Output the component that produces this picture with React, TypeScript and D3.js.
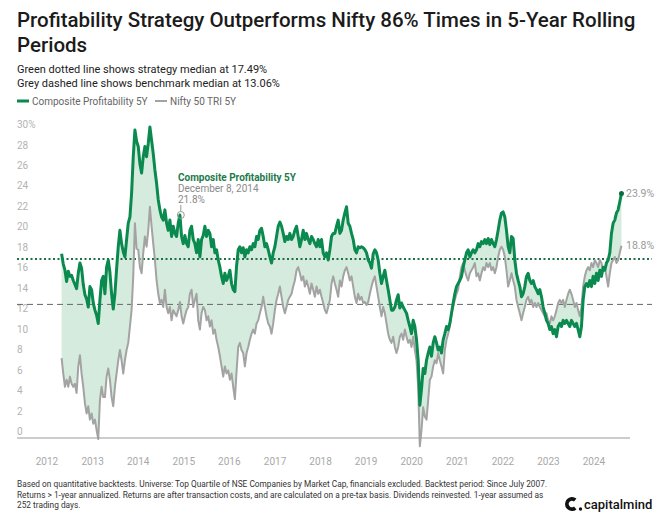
import React from "react";
import * as d3 from "d3";

const W = 660;
const H = 514;

// Rolling 5Y returns (%) at regular intervals
const startDate = new Date(2012, 3, 27);
const endDate = new Date(2024, 7, 8);

const strategyValues = [
  18.0, 17.0, 16.4, 15.3, 16.3, 15.8, 15.9, 15.4, 15.0, 14.6,
  16.1, 17.1, 16.6, 15.0, 14.0, 13.6, 12.8, 14.8, 14.5, 13.2,
  12.5, 12.0, 11.2, 13.5, 15.4, 15.8, 14.1, 16.7, 17.4, 16.2,
  14.1, 12.6, 14.1, 16.5, 18.7, 20.3, 19.0, 18.2, 17.7, 19.4,
  21.0, 21.6, 23.9, 27.5, 30.1, 29.0, 28.5, 26.8, 25.9, 27.5,
  28.5, 27.5, 28.8, 30.4, 29.1, 27.8, 26.2, 24.9, 23.3, 22.3,
  21.6, 21.3, 22.3, 21.0, 20.3, 21.3, 19.7, 20.7, 20.0, 19.7,
  21.0, 21.8, 19.7, 19.0, 19.8, 19.0, 18.7, 20.3, 20.7, 19.4,
  19.0, 18.1, 19.4, 17.7, 19.4, 19.8, 20.7, 19.7, 20.3, 20.0,
  18.7, 19.4, 18.1, 18.4, 17.4, 16.7, 15.8, 15.1, 16.1, 15.4,
  15.8, 16.4, 15.1, 14.5, 14.3, 16.8, 18.4, 18.7, 18.1, 18.6,
  17.7, 18.4, 18.1, 18.7, 18.4, 19.0, 18.7, 19.7, 19.4, 20.3,
  20.5, 19.7, 18.7, 19.0, 18.4, 17.7, 17.1, 18.1, 18.7, 19.7,
  20.7, 21.1, 20.7, 20.0, 19.2, 19.7, 19.4, 20.0, 19.4, 19.7,
  20.3, 20.7, 19.7, 18.7, 19.4, 20.3, 19.4, 20.0, 19.4, 19.0,
  19.7, 19.4, 19.0, 18.7, 19.4, 18.7, 19.4, 18.1, 17.7, 18.1,
  17.4, 18.4, 19.7, 20.0,
  20.0, 20.7, 21.3, 20.0, 20.3, 21.3, 22.0, 22.6, 21.0, 20.7,
  20.0, 19.4, 18.4, 18.1, 18.7, 18.6, 18.7, 18.6, 18.4, 18.1,
  17.4, 17.1, 16.6, 18.0, 18.4, 18.1, 17.4, 16.1, 15.1, 15.8,
  16.4, 15.4, 14.5, 13.5, 12.5, 12.5, 12.8, 13.5, 14.0, 12.7,
  13.2, 12.8, 12.5, 12.2, 11.5, 10.9, 10.2, 11.5, 10.9, 9.6,
  7.6, 3.2, 4.8, 6.8, 6.3, 7.6, 8.3, 8.9, 8.0, 9.3,
  9.9, 9.3, 8.6, 8.9, 8.3, 9.6, 10.2, 10.9, 10.6, 11.2,
  12.2, 13.2, 14.1, 14.8, 15.1, 15.4, 15.8, 16.7, 17.4, 18.1,
  18.4, 17.7, 18.1, 18.4,
  18.1, 18.4, 19.0, 18.7, 19.2, 19.0, 19.4, 19.0, 19.5, 18.9,
  19.4, 19.0, 18.7, 19.4, 20.3, 21.3, 22.0, 22.1, 21.6, 20.3,
  18.7, 18.1, 19.7, 19.5, 17.4, 16.1, 15.4, 14.8, 13.8, 14.1,
  14.8, 15.8, 16.1, 15.4, 15.1, 15.4, 14.8, 14.5, 14.1, 14.5,
  13.8, 12.8, 12.2, 11.5, 11.2, 10.6, 10.9, 10.2, 10.6, 9.9,
  10.9, 11.2, 10.9, 11.5, 11.2, 11.5, 11.2, 10.9, 11.5, 11.2,
  10.9, 11.2, 10.6, 9.9, 10.9, 13.5, 14.8, 15.1, 14.8, 15.4,
  14.8, 15.8, 15.1, 16.1, 15.4, 16.4, 15.8, 16.7, 16.4, 17.1,
  17.4, 18.1, 20.0, 21.0, 21.3, 22.0, 22.3, 23.1, 23.9,
];

const benchmarkValues = [
  7.8, 6.3, 5.0, 5.7, 5.0, 6.0, 5.3, 5.0, 5.3, 4.4,
  7.0, 8.1, 6.3, 5.0, 3.4, 2.4, 3.1, 1.8, 2.4, 1.4,
  1.8, 0.8, -0.1, 3.7, 5.0, 4.0, 4.0, 6.0, 6.8, 5.7,
  4.0, 3.1, 5.0, 6.3, 7.6, 8.6, 7.6, 6.3, 7.6, 8.6,
  9.3, 10.9, 12.5, 15.8, 21.0, 18.5, 18.4, 16.7, 16.1, 18.1,
  19.7, 18.7, 20.3, 22.6, 20.7, 19.0, 17.4, 15.4, 14.1, 13.2,
  13.5, 12.8, 14.5, 12.8, 12.2, 12.8, 11.5, 12.5, 12.2, 11.9,
  12.5, 13.3, 11.9, 11.2, 11.9, 12.5, 12.8, 14.1, 14.5, 12.8,
  13.5, 14.1, 11.5, 10.6, 12.2, 12.8, 12.5, 11.5, 11.9, 10.9,
  11.5, 10.2, 10.6, 9.6, 8.9, 8.0, 7.0, 6.0, 7.0, 6.3,
  6.6, 5.7, 6.3, 5.0, 3.8, 6.5, 8.9, 9.3, 8.6, 8.3,
  7.0, 8.3, 8.9, 9.6, 10.2, 10.6, 10.2, 11.2, 11.5, 12.2,
  12.8, 13.8, 12.8, 11.9, 11.2, 10.9, 10.2, 11.2, 12.5, 13.5,
  14.1, 14.8, 13.8, 12.8, 12.2, 12.8, 13.5, 13.8, 14.1, 14.8,
  15.4, 16.4, 16.7, 16.1, 15.4, 15.8, 14.8, 15.4, 14.8, 14.1,
  15.1, 14.5, 13.8, 14.8, 14.1, 14.5, 13.8, 13.2, 12.5, 12.2,
  12.8, 13.5, 15.1, 15.8,
  15.1, 14.5, 13.8, 15.4, 14.8, 15.8, 16.4, 16.7, 16.1, 15.4,
  15.8, 14.8, 13.8, 13.2, 14.1, 13.5, 13.8, 13.2, 13.3, 13.0,
  13.3, 14.1, 14.8, 15.4, 15.8, 14.8, 13.8, 12.8, 11.9, 12.8,
  12.2, 11.2, 10.2, 9.6, 9.3, 9.9, 8.9, 8.3, 8.9, 9.9,
  10.2, 9.6, 10.6, 9.9, 9.3, 9.6, 8.9, 9.9, 8.6, 7.6,
  5.0, -0.8, 0.8, 3.0, 2.1, 1.8, 3.7, 5.7, 6.0, 7.0,
  7.6, 7.3, 8.3, 7.6, 7.0, 6.3, 8.6, 9.6, 10.2, 10.9,
  12.2, 12.8, 13.5, 14.1, 14.5, 15.8, 16.7, 17.1, 16.4, 15.8,
  15.4, 16.1, 16.4, 16.7,
  17.1, 15.8, 16.1, 15.4, 16.1, 16.7, 16.4, 17.1, 16.7, 17.1,
  16.4, 16.7, 16.1, 16.7, 17.7, 18.4, 18.7, 18.4, 17.7, 16.4,
  14.8, 15.4, 16.1, 15.4, 14.8, 13.5, 12.8, 12.2, 11.5, 12.2,
  12.8, 13.5, 13.8, 13.2, 13.5, 12.8, 13.2, 12.8, 13.2, 12.8,
  12.5, 12.2, 11.9, 12.2, 11.5, 11.2, 11.9, 11.5, 11.9, 12.5,
  13.2, 13.5, 13.2, 13.5, 12.8, 13.5, 14.1, 14.5, 14.1, 13.5,
  12.8, 13.2, 12.5, 11.9, 12.8, 14.8, 15.8, 16.4, 16.7, 16.4,
  17.1, 16.7, 17.4, 17.1, 16.7, 17.4, 17.1, 16.4, 16.7, 15.8,
  14.8, 16.1, 17.1, 17.4, 17.7, 17.1, 17.4, 18.1, 18.8,
];

const yTicks = [0, 2, 4, 6, 8, 10, 12, 14, 16, 18, 20, 22, 24, 26, 28, 30];
const xYears = [2012, 2013, 2014, 2015, 2016, 2017, 2018, 2019, 2020, 2021, 2022, 2023, 2024];

const strategyMedian = 17.49;
const benchmarkMedian = 13.06;

const seriesNames = ["Composite Profitability 5Y", "Nifty 50 TRI 5Y"];

const annotationDate = new Date(2014, 11, 8);
const annotationValue = 21.8;
const annotationDateLabel = "December 8, 2014";

const titleLines = [
  "Profitability Strategy Outperforms Nifty 86% Times in 5-Year Rolling",
  "Periods",
];
const subtitleLines = [
  "Green dotted line shows strategy median at 17.49%",
  "Grey dashed line shows benchmark median at 13.06%",
];
const footerLines = [
  "Based on quantitative backtests. Universe: Top Quartile of NSE Companies by Market Cap, financials excluded. Backtest period: Since July 2007.",
  "Returns > 1-year annualized. Returns are after transaction costs, and are calculated on a pre-tax basis. Dividends reinvested. 1-year assumed as",
  "252 trading days.",
];

const GREEN = "#0a8a4f";
const GREY = "#a3a3a3";
const FONT = "Roboto, 'Noto Sans', sans-serif";

export default function App() {
  const x = d3
    .scaleTime()
    .domain([new Date(2012, 0, 1), new Date(2024, 0, 1)])
    .range([47, 594]);
  const y = d3.scaleLinear().domain([0, 30]).range([438, 131.1]);

  const n = strategyValues.length;
  const timeAt = d3
    .scaleLinear()
    .domain([0, n - 1])
    .range([startDate.getTime(), endDate.getTime()]);

  const data = strategyValues.map((s, i) => ({
    date: new Date(timeAt(i)),
    s,
    b: benchmarkValues[i],
  }));

  const area = d3
    .area<any>()
    .x((d) => x(d.date))
    .y0((d) => y(d.b))
    .y1((d) => y(d.s));
  const lineS = d3
    .line<any>()
    .x((d) => x(d.date))
    .y((d) => y(d.s));
  const lineB = d3
    .line<any>()
    .x((d) => x(d.date))
    .y((d) => y(d.b));

  const last = data[data.length - 1];
  const ax = x(annotationDate);
  const ay = y(annotationValue);

  const logoArc = d3
    .arc<any>()
    .innerRadius(3.2)
    .outerRadius(7)
    .startAngle(0.78 * Math.PI)
    .endAngle(2.22 * Math.PI);

  return (
    <svg
      width={W}
      height={H}
      style={{ position: "absolute", left: 0, top: 0, background: "#fff" }}
      fontFamily={FONT}
    >
      <rect width={W} height={H} fill="#ffffff" />
      {/* Title */}
      {titleLines.map((t, i) => (
        <text key={t} x={17} y={27 + i * 25} fontSize={20.5} fontWeight={500} fill="#1b1b1b">
          {t}
        </text>
      ))}
      {subtitleLines.map((t, i) => (
        <text key={t} x={17} y={73 + i * 13.5} fontSize={11} fill="#222">
          {t}
        </text>
      ))}
      {/* Legend */}
      <line x1={17} x2={29} y1={101} y2={101} stroke={GREEN} strokeWidth={3} />
      <text x={32} y={104.5} fontSize={10} fill="#666">
        {seriesNames[0]}
      </text>
      <line x1={155} x2={167} y1={101} y2={101} stroke={GREY} strokeWidth={2} />
      <text x={170} y={104.5} fontSize={10} fill="#666">
        {seriesNames[1]}
      </text>

      {/* Y axis labels */}
      {yTicks.map((v) => (
        <text key={v} x={17} y={y(v) - 3} fontSize={10} fill="#b3b3b3">
          {v === 30 ? "30%" : v}
        </text>
      ))}

      {/* Fill between */}
      <path d={area(data) || ""} fill="#d3eadb" opacity={0.95} />

      {/* Median lines */}
      <line
        x1={17}
        x2={652}
        y1={y(benchmarkMedian)}
        y2={y(benchmarkMedian)}
        stroke="#666"
        strokeWidth={1}
        strokeDasharray="6,4"
      />
      <line
        x1={17}
        x2={652}
        y1={y(strategyMedian)}
        y2={y(strategyMedian)}
        stroke="#1b6e45"
        strokeWidth={2}
        strokeDasharray="2,2.5"
      />

      {/* Lines */}
      <path d={lineB(data) || ""} fill="none" stroke={GREY} strokeWidth={2} strokeLinejoin="round" />
      <path d={lineS(data) || ""} fill="none" stroke={GREEN} strokeWidth={3} strokeLinejoin="round" />

      {/* Baseline */}
      <line x1={17} x2={630} y1={y(0)} y2={y(0)} stroke="#9a9a9a" strokeWidth={1} />

      {/* X labels */}
      {xYears.map((yr) => (
        <text
          key={yr}
          x={x(new Date(yr, 0, 1))}
          y={465}
          fontSize={10}
          fill="#a8a8a8"
          textAnchor="middle"
        >
          {yr}
        </text>
      ))}

      {/* End labels */}
      <circle cx={x(last.date)} cy={y(last.s)} r={2.5} fill="#0d6b40" />
      <text x={626} y={y(last.s) + 3.5} fontSize={10.5} fill="#999">
        {last.s.toFixed(1)}%
      </text>
      <text x={626} y={y(last.b) + 3.5} fontSize={10.5} fill="#999">
        {last.b.toFixed(1)}%
      </text>

      {/* Annotation */}
      <circle cx={ax} cy={ay} r={3.5} fill="none" stroke="#999" strokeWidth={1} />
      <line x1={ax} x2={ax} y1={ay - 3.5} y2={ay - 10} stroke="#999" strokeWidth={1} />
      <text x={178} y={181} fontSize={10} fontWeight={700} fill="#1d7a4c">
        {seriesNames[0]}
      </text>
      <text x={178} y={192} fontSize={10} fill="#8a8a8a">
        {annotationDateLabel}
      </text>
      <text x={178} y={203} fontSize={10} fill="#8a8a8a">
        {annotationValue.toFixed(1)}%
      </text>

      {/* Footer */}
      {footerLines.map((t, i) => (
        <text key={i} x={17} y={487 + i * 10.5} fontSize={8.3} fill="#333">
          {t}
        </text>
      ))}

      {/* Logo */}
      <path d={logoArc({}) || ""} transform="translate(572,504)" fill="#111" />
      <circle cx={580.5} cy={509} r={1.7} fill="#111" />
      <text x={584} y={509} fontSize={13} fontWeight={500} fill="#111">
        capitalmind
      </text>
    </svg>
  );
}
